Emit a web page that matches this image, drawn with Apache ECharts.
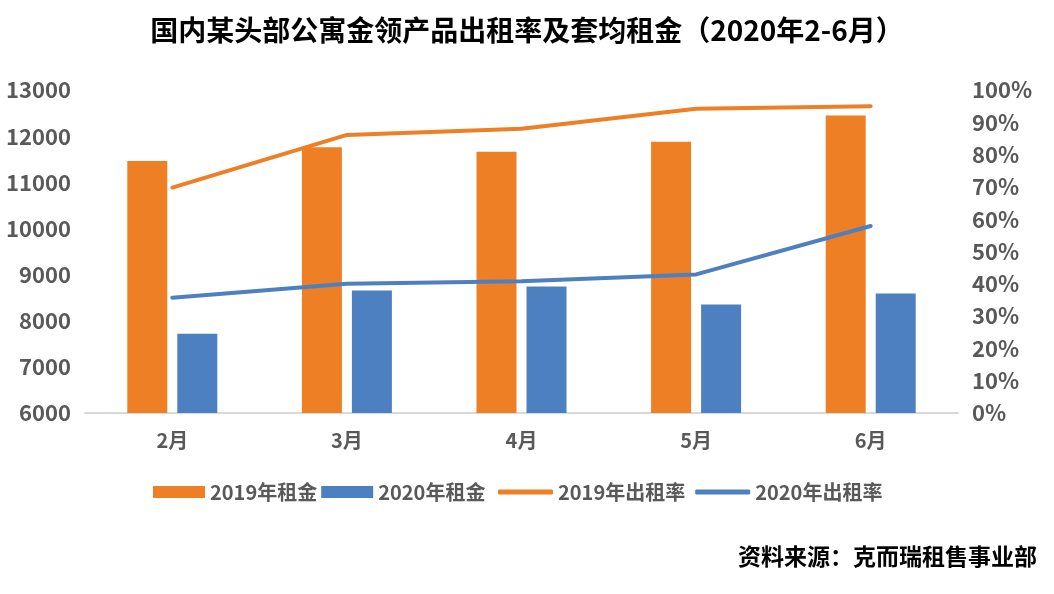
<!DOCTYPE html>
<html>
<head>
<meta charset="utf-8">
<script src="https://cdn.jsdelivr.net/npm/echarts@6/dist/echarts.min.js"></script>
<style>html,body{margin:0;padding:0;background:#fff;}#c{width:1054px;height:594px;}</style>
</head>
<body>
<div id="c"></div>
<script>
var categories = ['2月', '3月', '4月', '5月', '6月'];
var rent2019 = [11460, 11760, 11660, 11880, 12450];
var rent2020 = [7720, 8655, 8740, 8350, 8590];
var rate2019 = [0.698, 0.861, 0.880, 0.942, 0.950];
var rate2020 = [0.357, 0.400, 0.408, 0.429, 0.579];
var leftTicks = { min: 6000, max: 13000, interval: 1000 };
var rightTicks = { min: 0, max: 1, interval: 0.1 };

var FONT = '"Noto Sans CJK SC", "Noto Sans", sans-serif';
var ORANGE = '#EE7F24';
var BLUE = '#4D80C0';
var GRAY = '#595959';

var chart = echarts.init(document.getElementById('c'), null, { renderer: 'canvas' });
chart.setOption({
  animation: false,
  backgroundColor: '#fff',
  title: {
    text: '国内某头部公寓金领产品出租率及套均租金（2020年2-6月）',
    left: 'center',
    top: 11,
    textStyle: { fontFamily: FONT, fontWeight: 'bold', fontSize: 28, color: '#000' }
  },
  grid: { left: 85, right: 96, top: 90, bottom: 181 },
  legend: [
    {
      top: 477,
      left: 148,
      itemGap: 4,
      itemWidth: 52,
      itemHeight: 12,
      textStyle: { fontFamily: FONT, fontWeight: 'bold', fontSize: 20, color: GRAY },
      data: [
        { name: '2019年租金', icon: 'rect' },
        { name: '2020年租金', icon: 'rect' }
      ]
    },
    {
      top: 477,
      left: 493,
      itemGap: 10,
      itemWidth: 55,
      itemHeight: 5,
      textStyle: { fontFamily: FONT, fontWeight: 'bold', fontSize: 20, color: GRAY },
      data: [
        { name: '2019年出租率', icon: 'roundRect' },
        { name: '2020年出租率', icon: 'roundRect' }
      ]
    }
  ],
  xAxis: {
    type: 'category',
    data: categories,
    axisLine: { lineStyle: { color: '#D9D9D9', width: 2 } },
    axisTick: { show: false },
    axisLabel: { fontFamily: FONT, fontWeight: 'bold', fontSize: 20, color: GRAY, margin: 17 }
  },
  yAxis: [
    {
      type: 'value',
      min: leftTicks.min, max: leftTicks.max, interval: leftTicks.interval,
      splitLine: { show: false },
      axisLine: { show: false },
      axisTick: { show: false },
      axisLabel: {
        fontFamily: FONT, fontWeight: 'bold', fontSize: 22, color: GRAY, margin: 14,
        formatter: function (v) { return String(v); }
      }
    },
    {
      type: 'value',
      min: rightTicks.min, max: rightTicks.max, interval: rightTicks.interval,
      splitLine: { show: false },
      axisLine: { show: false },
      axisTick: { show: false },
      axisLabel: {
        fontFamily: FONT, fontWeight: 'bold', fontSize: 22, color: GRAY, margin: 14,
        formatter: function (v) { return Math.round(v * 100) + '%'; }
      }
    }
  ],
  series: [
    { name: '2019年租金', type: 'bar', data: rent2019, barWidth: 40, barGap: '25%', itemStyle: { color: ORANGE } },
    { name: '2020年租金', type: 'bar', data: rent2020, barWidth: 40, barGap: '25%', itemStyle: { color: BLUE } },
    { name: '2019年出租率', type: 'line', yAxisIndex: 1, data: rate2019, symbol: 'none',
      lineStyle: { color: ORANGE, width: 4, cap: 'round', join: 'round' }, itemStyle: { color: ORANGE } },
    { name: '2020年出租率', type: 'line', yAxisIndex: 1, data: rate2020, symbol: 'none',
      lineStyle: { color: BLUE, width: 4, cap: 'round', join: 'round' }, itemStyle: { color: BLUE } }
  ],
  graphic: [
    {
      type: 'text', right: 17, top: 545,
      style: { text: '资料来源：克而瑞租售事业部', fontFamily: FONT, fontWeight: 'bold', fontSize: 23, fill: '#000' }
    }
  ]
});
</script>
</body>
</html>
